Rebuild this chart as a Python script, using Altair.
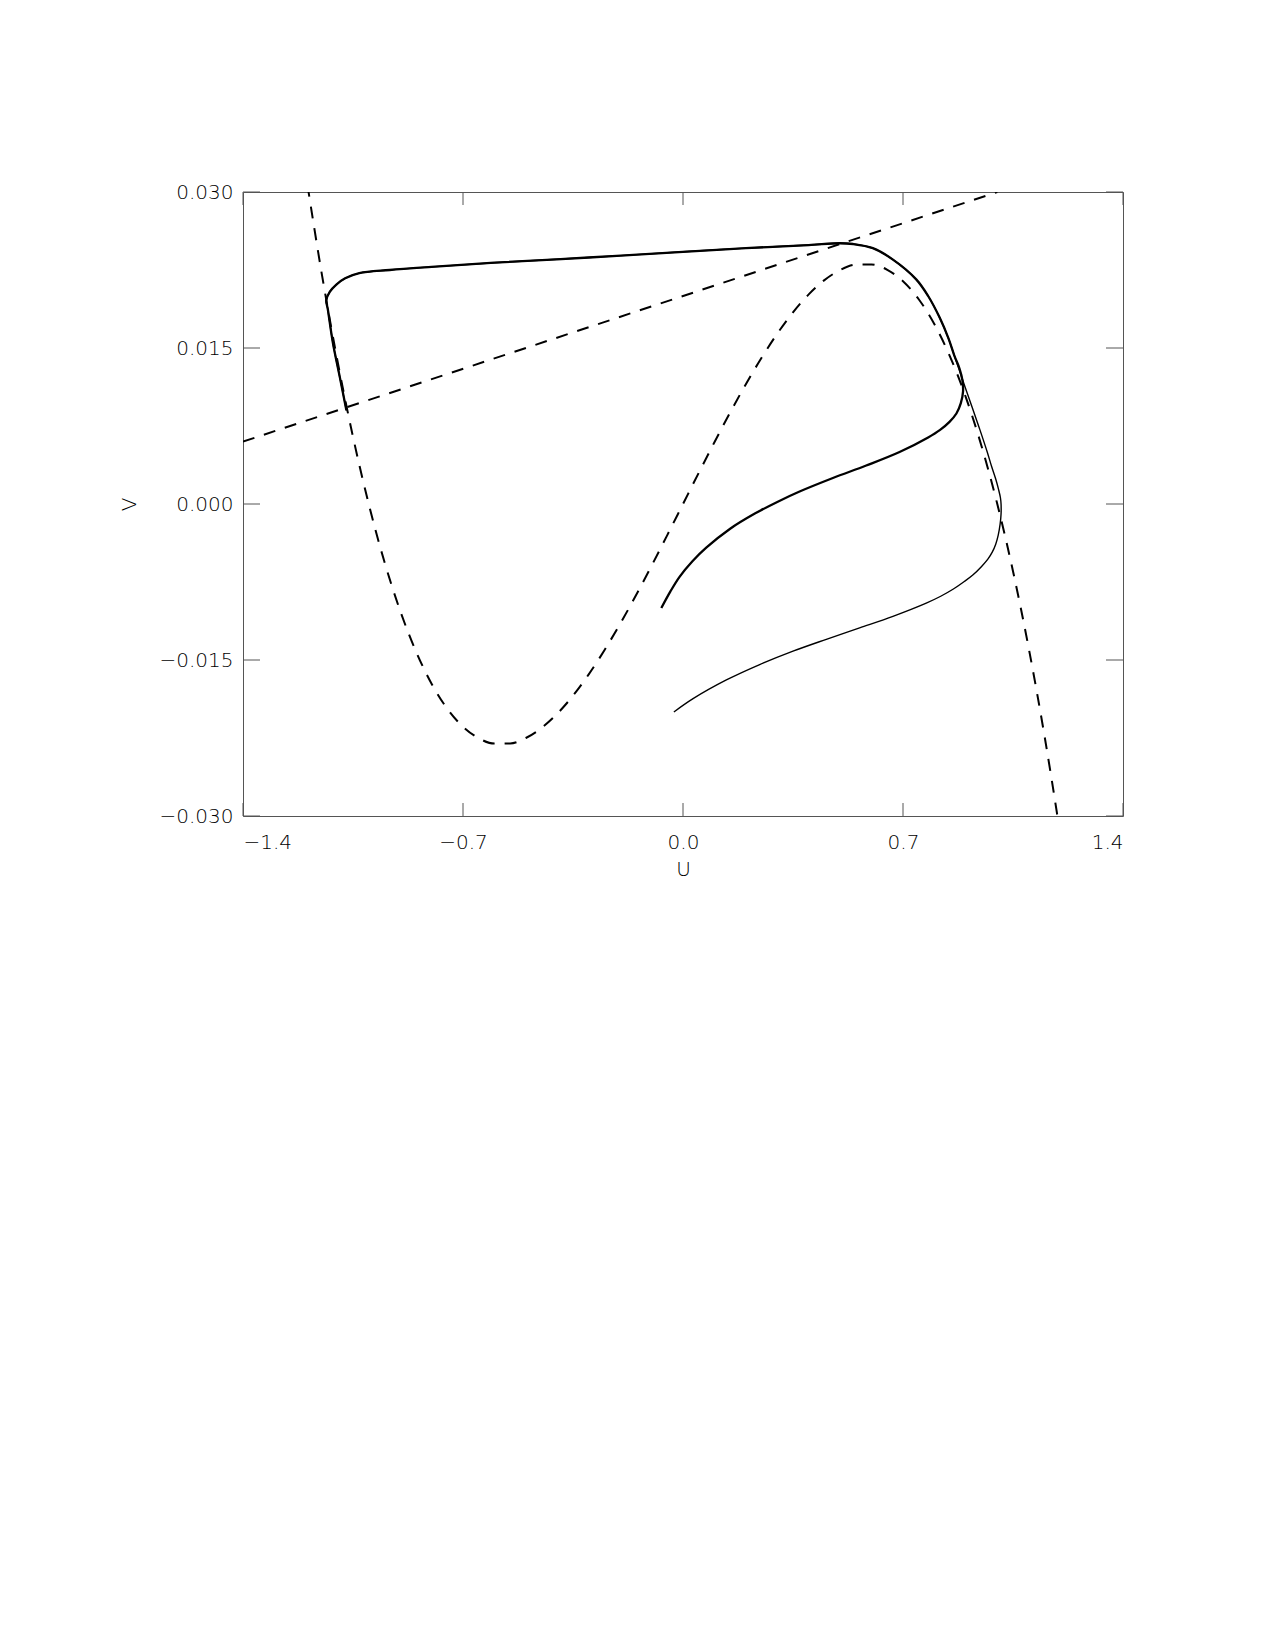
import altair as alt
import pandas as pd

# ---- data ----
x_ticks = [-1.4, -0.7, 0.0, 0.7, 1.4]
y_ticks = [-0.030, -0.015, 0.000, 0.015, 0.030]

# cubic nullcline (dashed)
cubic_u = [-1.195, -1.15, -1.1, -1.05, -1.0, -0.95, -0.9, -0.85, -0.8, -0.75, -0.7, -0.65,
           -0.6, -0.55, -0.5, -0.45, -0.4, -0.35, -0.3, -0.25, -0.2, -0.15, -0.1, -0.05, 0.0,
           0.05, 0.1, 0.15, 0.2, 0.25, 0.3, 0.35, 0.4, 0.45, 0.5, 0.55, 0.6, 0.65, 0.7, 0.75,
           0.8, 0.85, 0.9, 0.95, 1.0, 1.05, 1.1, 1.15, 1.195]
cubic_v = [0.0307, 0.02225, 0.01386, 0.00646, 0.0, -0.00556, -0.01026, -0.01415, -0.01728,
           -0.01969, -0.02142, -0.02252, -0.02304, -0.02302, -0.0225, -0.02153, -0.02016,
           -0.01843, -0.01638, -0.01406, -0.01152, -0.0088, -0.00594, -0.00299, 0.0,
           0.00299, 0.00594, 0.0088, 0.01152, 0.01406, 0.01638, 0.01843, 0.02016, 0.02153,
           0.0225, 0.02302, 0.02304, 0.02252, 0.02142, 0.01969, 0.01728, 0.01415, 0.01026,
           0.00556, 0.0, -0.00646, -0.01386, -0.02225, -0.0307]

# straight nullcline (dashed)
line_u = [-1.4, 1.0]
line_v = [0.006, 0.030]

# common upper part of both trajectories (right branch -> top -> left branch)
upper_u = [0.863, 0.845, 0.817, 0.780, 0.742, 0.668, 0.604, 0.541, 0.498, 0.40, 0.20, 0.0,
           -0.30, -0.60, -0.80, -0.933, -1.03, -1.075, -1.103, -1.124, -1.135, -1.130, -1.114,
           -1.092, -1.071]
upper_v = [0.0143, 0.0159, 0.0179, 0.0200, 0.0216, 0.0235, 0.0246, 0.0250, 0.02507, 0.0249,
           0.0246, 0.02425, 0.0237, 0.0232, 0.0228, 0.0225, 0.0222, 0.0217, 0.0211, 0.0204,
           0.0196, 0.0187, 0.0155, 0.0122, 0.0090]

# trajectory 1 (thick), lower part
t1_u = [-0.069, -0.04, -0.011, 0.03, 0.074, 0.149, 0.23, 0.30, 0.371, 0.477, 0.583, 0.689,
        0.78, 0.817, 0.848, 0.870, 0.884, 0.891, 0.889, 0.880]
t1_v = [-0.0100, -0.0084, -0.0070, -0.0055, -0.0042, -0.0024, -0.0009, 0.0002, 0.0012,
        0.0025, 0.0037, 0.0050, 0.0064, 0.0071, 0.0079, 0.0087, 0.0097, 0.0108, 0.0119, 0.0130]

# trajectory 2 (thin), lower part
t2_u = [-0.029, 0.032, 0.138, 0.244, 0.350, 0.456, 0.562, 0.668, 0.774, 0.82, 0.859, 0.895,
        0.923, 0.950, 0.970, 0.984, 0.995, 1.003, 1.009, 1.012, 1.012, 1.010, 1.004, 0.995,
        0.982, 0.968, 0.944, 0.920, 0.898, 0.880]
t2_v = [-0.0200, -0.01872, -0.01692, -0.01544, -0.01415, -0.01301, -0.01191, -0.01080,
        -0.00953, -0.00887, -0.00820, -0.00745, -0.00680, -0.0060, -0.0053, -0.00463,
        -0.00386, -0.00299, -0.00193, -0.00096, 0.0000, 0.0006, 0.0014, 0.0024, 0.0036,
        0.0050, 0.0072, 0.0093, 0.0112, 0.0128]

W, H = 880, 624
FONT = "DejaVu Sans"
AX = "#555555"
TXT = "#000000"

xs = alt.Scale(domain=[-1.4, 1.4], nice=False, zero=False)
ys = alt.Scale(domain=[-0.03, 0.03], nice=False, zero=False)


def path_df(u, v):
    return pd.DataFrame({"u": u, "v": v, "i": list(range(len(u)))})


x_axis = alt.Axis(values=x_ticks, format=".1f", ticks=False, tickSize=0, domain=False,
                  grid=False, labelPadding=16, title="U", titlePadding=7)
y_axis = alt.Axis(values=y_ticks, format=".3f", ticks=False, tickSize=0, domain=False,
                  grid=False, labelPadding=10, title="V", titlePadding=19)

cubic = alt.Chart(path_df(cubic_u, cubic_v)).mark_line(
    color="black", strokeWidth=2, strokeDash=[12, 10], interpolate="monotone", clip=True
).encode(
    x=alt.X("u:Q", scale=xs, axis=x_axis),
    y=alt.Y("v:Q", scale=ys, axis=y_axis),
    order="i:O",
)

straight = alt.Chart(path_df(line_u, line_v)).mark_line(
    color="black", strokeWidth=2, strokeDash=[12, 10], clip=True
).encode(x=alt.X("u:Q", scale=xs), y=alt.Y("v:Q", scale=ys), order="i:O")

traj2 = alt.Chart(path_df(t2_u + upper_u, t2_v + upper_v)).mark_line(
    color="black", strokeWidth=1.4, interpolate="catmull-rom", clip=True
).encode(x=alt.X("u:Q", scale=xs), y=alt.Y("v:Q", scale=ys), order="i:O")

traj1 = alt.Chart(path_df(t1_u + upper_u, t1_v + upper_v)).mark_line(
    color="black", strokeWidth=2.3, interpolate="catmull-rom", clip=True
).encode(x=alt.X("u:Q", scale=xs), y=alt.Y("v:Q", scale=ys), order="i:O")

xt = pd.DataFrame({"u": x_ticks})
yt = pd.DataFrame({"v": y_ticks})
tick_style = dict(color=AX, strokeWidth=1)

tick_bottom = alt.Chart(xt).mark_rule(**tick_style).encode(
    x=alt.X("u:Q", scale=xs), y=alt.value(H), y2=alt.value(H - 13))
tick_top = alt.Chart(xt).mark_rule(**tick_style).encode(
    x=alt.X("u:Q", scale=xs), y=alt.value(0), y2=alt.value(13))
tick_left = alt.Chart(yt).mark_rule(**tick_style).encode(
    y=alt.Y("v:Q", scale=ys), x=alt.value(0), x2=alt.value(17))
tick_right = alt.Chart(yt).mark_rule(**tick_style).encode(
    y=alt.Y("v:Q", scale=ys), x=alt.value(W), x2=alt.value(W - 17))

chart = alt.layer(
    tick_bottom, tick_top, tick_left, tick_right, cubic, straight, traj2, traj1
).properties(
    width=W, height=H,
    padding={"left": 111, "top": 174, "right": 20, "bottom": 20},
).configure_view(
    stroke=AX, strokeWidth=1
).configure_axis(
    labelFont=FONT, labelFontSize=20, labelColor=TXT, labelFontWeight=200,
    titleFont=FONT, titleFontSize=20, titleColor=TXT, titleFontWeight=200,
)

chart.save("out.html", embed_options={"renderer": "svg", "actions": False})
